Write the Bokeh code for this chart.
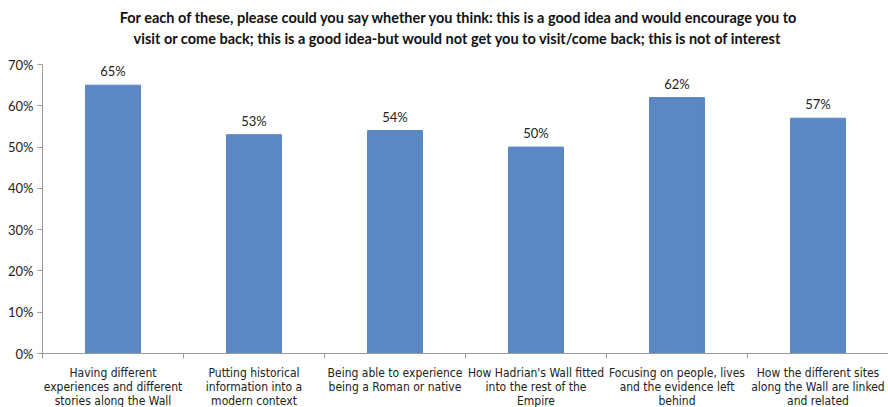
from bokeh.plotting import figure
from bokeh.models import ColumnDataSource, FixedTicker, NumeralTickFormatter, Range1d, Label
from bokeh.embed import file_html
from bokeh.resources import INLINE
from bokeh.core.properties import value

categories = [
    "Having different\nexperiences and different\nstories along the Wall",
    "Putting historical\ninformation into a\nmodern context",
    "Being able to experience\nbeing a Roman or native",
    "How Hadrian's Wall fitted\ninto the rest of the\nEmpire",
    "Focusing on people, lives\nand the evidence left\nbehind",
    "How the different sites\nalong the Wall are linked\nand related",
]
values = [0.65, 0.53, 0.54, 0.50, 0.62, 0.57]
value_labels = ["65%", "53%", "54%", "50%", "62%", "57%"]
y_ticks = [0, 0.1, 0.2, 0.3, 0.4, 0.5, 0.6, 0.7]
title_lines = [
    "For each of these, please could you say whether you think: this is a good idea and would encourage you to",
    "visit or come back; this is a good idea-but would not get you to visit/come  back; this is not of interest",
]

FONT = "Lato"
XFONT = "DejaVu Sans Condensed, Lato"
FW = 846          # frame width (px)
PLOT_H = 289      # pixels spanned by 0%..70%
TOP_H = 64        # title band above 70%
FH = PLOT_H + TOP_H
y_max = y_ticks[-1]
xs = [i + 0.5 for i in range(len(categories))]
src = ColumnDataSource(dict(x=xs, top=values, lab=value_labels))

p = figure(frame_width=FW, frame_height=FH, output_backend="svg", toolbar_location=None,
           x_range=Range1d(0, 6), y_range=Range1d(0, y_max * FH / PLOT_H),
           min_border_left=42, min_border_right=0, min_border_top=0, min_border_bottom=0)

# two centred title lines in the band above the 70% line (screen units from frame bottom-left)
for i, line in enumerate(title_lines):
    p.add_layout(Label(x=FW / 2 - 6, y=FH - 17 - i * 21, x_units="screen", y_units="screen",
                       text=line, text_align="center", text_baseline="middle",
                       text_font=FONT, text_font_size="14.5px", text_font_style="bold",
                       text_color="#111111"))

p.outline_line_color = None
p.xgrid.grid_line_color = None
p.ygrid.grid_line_color = None
p.background_fill_color = "white"
p.border_fill_color = "white"

p.vbar(x="x", top="top", width=0.39, bottom=0, source=src, color="#5b87c3")
p.text(x="x", y="top", text="lab", source=src, text_align="center", text_baseline="bottom",
       y_offset=-6, text_font=value(FONT), text_font_size="13px", text_color="#222222")

p.yaxis.ticker = FixedTicker(ticks=y_ticks)
p.yaxis.bounds = (0, y_max)
p.yaxis.formatter = NumeralTickFormatter(format="0%")
p.yaxis.axis_line_color = "#9a9a9a"
p.yaxis.major_tick_line_color = "#9a9a9a"
p.yaxis.major_tick_out = 5
p.yaxis.major_tick_in = 0
p.yaxis.minor_tick_line_color = None
p.yaxis.major_label_text_font = FONT
p.yaxis.major_label_text_font_size = "13px"
p.yaxis.major_label_text_color = "#222222"
p.yaxis.major_label_standoff = 4

p.xaxis.ticker = FixedTicker(ticks=xs, minor_ticks=list(range(7)))
p.xaxis.major_label_overrides = {x: c for x, c in zip(xs, categories)}
p.xaxis.axis_line_color = "#9a9a9a"
p.xaxis.major_tick_line_color = None
p.xaxis.major_tick_out = 0
p.xaxis.major_tick_in = 0
p.xaxis.minor_tick_line_color = "#9a9a9a"
p.xaxis.minor_tick_out = 5
p.xaxis.minor_tick_in = 0
p.xaxis.major_label_text_font = XFONT
p.xaxis.major_label_text_font_size = "12px"
p.xaxis.major_label_text_color = "#222222"
p.xaxis.major_label_standoff = 7
p.xaxis.major_label_text_line_height = 1.03

open("out.html", "w").write(file_html(p, INLINE))
